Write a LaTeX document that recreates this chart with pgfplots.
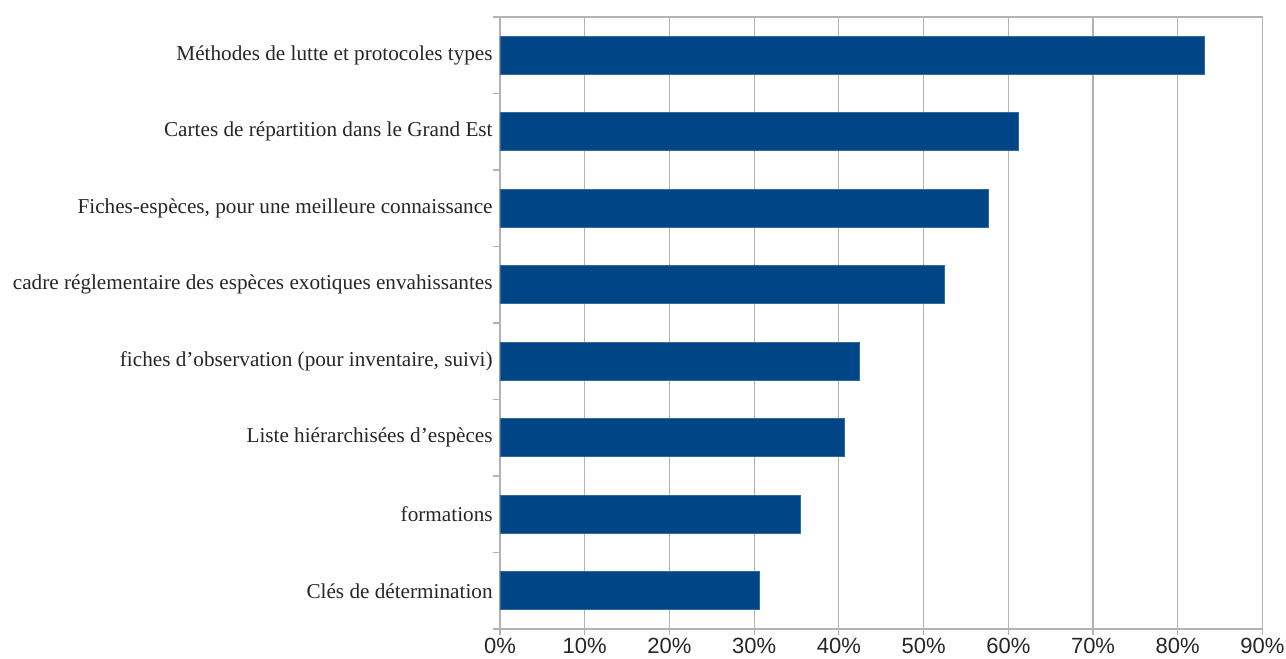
\documentclass[border=0pt]{standalone}
\usepackage{pgfplots}
\pgfplotsset{compat=1.18}
\usepackage{fontspec}
\setmainfont{Liberation Serif}
\newfontfamily\sansf{Liberation Sans}
\definecolor{barblue}{HTML}{004586}
\definecolor{gridgray}{HTML}{B3B3B3}
\begin{document}
\begin{tikzpicture}
\path (-250pt,-15pt) rectangle (393pt,314.5pt);
\begin{axis}[
  at={(0,0)}, anchor=south west,
  scale only axis, width=381.25pt, height=306pt,
  xbar, bar width=0.5,
  xmin=0, xmax=90,
  ymin=-0.5, ymax=7.5, y dir=reverse,
  xtick={0,10,...,90},
  xticklabels={0\%,10\%,20\%,30\%,40\%,50\%,60\%,70\%,80\%,90\%},
  xmajorgrids, grid style={gridgray, line width=0.6pt},
  axis line style={gridgray, line width=0.6pt},
  tick style={gridgray, line width=0.6pt},
  tick align=outside,
  xtick pos=bottom,
  major tick length=3pt,
  ytick={0,...,7},
  yticklabels={M\'ethodes de lutte et protocoles types,
    Cartes de r\'epartition dans le Grand Est,
    {Fiches-esp\`eces, pour une meilleure connaissance},
    cadre r\'eglementaire des esp\`eces exotiques envahissantes,
    {fiches d’observation (pour inventaire, suivi)},
    Liste hi\'erarchis\'ees d’esp\`eces,
    formations,
    Cl\'es de d\'etermination},
  ytick pos=left,
  major y tick style={draw=none},
  minor ytick={-0.5,0.5,...,7.5},
  minor tick length=3.5pt,
  yticklabel style={font=\fontsize{10.6}{12}\selectfont, text=black!85, anchor=east, inner sep=0pt, xshift=-0.5pt},
  xticklabel style={font=\sansf\fontsize{11}{12}\selectfont, text=black!85, inner sep=0pt, yshift=-1.5pt},
]
\addplot[fill=barblue, draw=barblue!80!white] coordinates {
  (83.1,0) (61.2,1) (57.7,2) (52.5,3) (42.4,4) (40.7,5) (35.5,6) (30.6,7)};
\end{axis}
\end{tikzpicture}
\end{document}
